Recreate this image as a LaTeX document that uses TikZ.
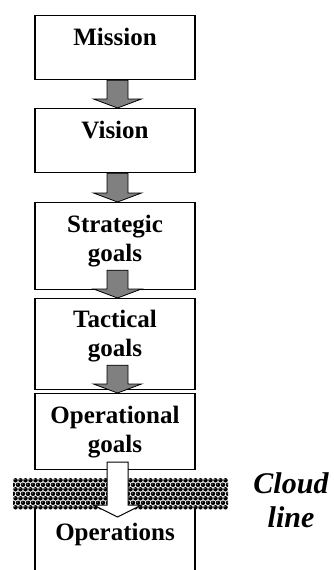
\documentclass[tikz,border=0pt]{standalone}
\usepackage{fontspec}
\setmainfont{Liberation Serif}
\usetikzlibrary{calc}

% block arrow: style, shaft top, tip, head height
\newcommand\blockarrow[4]{%
  \draw[#1] let \p1=(#2), \p2=(#3) in
    (\x1-10.5pt,\y1) -- (\x1-10.5pt,\y2+#4) -- (\x1-24pt,\y2+#4) --
    (\x1,\y2) -- (\x1+24pt,\y2+#4) -- (\x1+10.5pt,\y2+#4) --
    (\x1+10.5pt,\y1) -- cycle;}

\begin{document}
\begin{tikzpicture}[
    x=1pt, y=1pt,
    box/.style={
      draw,
      fill=white,
      line width=1.2pt,
      minimum width=160pt,
      anchor=north,
      inner sep=0pt
    },
    boxtext/.style={
      font=\fontsize{25}{29}\selectfont\bfseries,
      align=center,
      inner sep=0pt,
      anchor=north
    },
    grayarrow/.style={fill=black!50, draw=black, line width=0.8pt},
    whitearrow/.style={fill=white, draw=black, line width=1pt}
  ]
  \useasboundingbox (0,0) rectangle (334,-570);

  \node (mission) at (115,-15) [box,minimum height=64pt]{};
  \node (vision) at (115,-108) [box,minimum height=64pt]{};
  \node (strategic) at (115,-202) [box,minimum height=87pt]{};
  \node (tactical) at (115,-298) [box,minimum height=91pt]{};
  \node (operational) at (115,-393) [box,minimum height=76pt]{};
  \node (operations) at (115,-490) [box,minimum height=84pt]{};

  \node (tmission) at (115,-24.7) [boxtext]{\strut Mission};
  \node (tvision) at (115,-117.7) [boxtext]{\strut Vision};
  \node (tstrategic) at (115,-211.7) [boxtext]{\strut Strategic\\goals};
  \node (ttactical) at (115,-307.3) [boxtext]{\strut Tactical\\goals};
  \node (toperational) at (115,-402.7) [boxtext]{\strut Operational\\goals};
  \node (toperations) at (115,-519.7) [boxtext]{\strut Operations};

  \blockarrow{grayarrow}{[xshift=2.5pt]mission.south}{[xshift=2.5pt]vision.north}{9pt}
  \blockarrow{grayarrow}{[xshift=2.5pt]vision.south}{[xshift=2.5pt]strategic.north}{9pt}
  \blockarrow{grayarrow}{[xshift=2.5pt,yshift=20pt]strategic.south}{[xshift=2.5pt]tactical.north}{9pt}
  \blockarrow{grayarrow}{[xshift=2.5pt,yshift=25pt]tactical.south}{[xshift=2.5pt]operational.north}{9pt}

  % cloud band
  \fill[white] (13,-478) rectangle (228,-509);
  \begin{scope}
    \clip (13,-478) rectangle (228,-509);
    \foreach \y in {-480.3,-489.3,-498.3,-507.3}
      \foreach \x in {15.5,20.5,...,230.5}{
        \fill[black] (\x,\y) circle (2.25pt);
        \fill[black!45] (\x-0.7,\y+0.7) circle (0.6pt);
      }
    \foreach \y in {-484.8,-493.8,-502.8}
      \foreach \x in {13,18,...,228}{
        \fill[black] (\x,\y) circle (2.25pt);
        \fill[black!45] (\x-0.7,\y+0.7) circle (0.6pt);
      }
  \end{scope}

  \coordinate (cloudtip) at ([xshift=2.5pt,yshift=-27pt]operations.north);
  \blockarrow{whitearrow}{[xshift=2.5pt,yshift=8pt]operational.south}{cloudtip}{12pt}

  \node (cloud) at (291,-469.2) [anchor=north,align=center,inner sep=0pt,
    font=\fontsize{30}{34}\selectfont\bfseries\itshape]{\strut Cloud\\line};

\end{tikzpicture}
\end{document}
